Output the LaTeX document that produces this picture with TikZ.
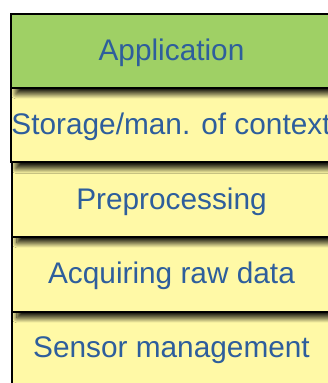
\documentclass[tikz,border=0pt]{standalone}
\usepackage{fontspec}
\setmainfont{Liberation Sans}
\usetikzlibrary{shadows.blur}
\definecolor{layergreen}{HTML}{9FD065}
\definecolor{layeryellow}{HTML}{FFF9A6}
\definecolor{layertext}{HTML}{2E5E9C}
\tikzset{
  layer/.style={draw=black, line width=2pt,
    blur shadow={shadow xshift=5pt, shadow yshift=-6pt,
                 shadow blur radius=5pt, shadow opacity=90,
                 shadow blur steps=10}},
  layerlabel/.style={text=layertext, font=\fontsize{29.8}{34}\selectfont, anchor=base}
}
\begin{document}
\begin{tikzpicture}[x=1pt,y=1pt]
  \useasboundingbox (0,0) rectangle (328,383);
  \clip (0,0) rectangle (328,383);
  \fill[white] (0,0) rectangle (328,383);
  % layers, drawn bottom-up so each shadow falls on the layer beneath
  \path[layer, fill=layeryellow] (12,-20) rectangle (345,71);
  \path[layer, fill=layeryellow] (12,71) rectangle (345,146);
  \path[layer, fill=layeryellow] (12,146) rectangle (345,220.5);
  \path[layer, fill=layeryellow] (11,220.5) rectangle (345,295);
  \path[layer, fill=layergreen] (11,295) rectangle (345,369);
  % labels
  \node[layerlabel] (app) at (171.5,322) {Application};
  \node[layerlabel] (store) at (171,248) {Storage/man. of context};
  \node[layerlabel] (pre) at (171.5,173.5) {Preprocessing};
  \node[layerlabel] (acq) at (171.5,99) {Acquiring raw data};
  \node[layerlabel] (sens) at (171.5,25) {Sensor management};
\end{tikzpicture}
\end{document}
